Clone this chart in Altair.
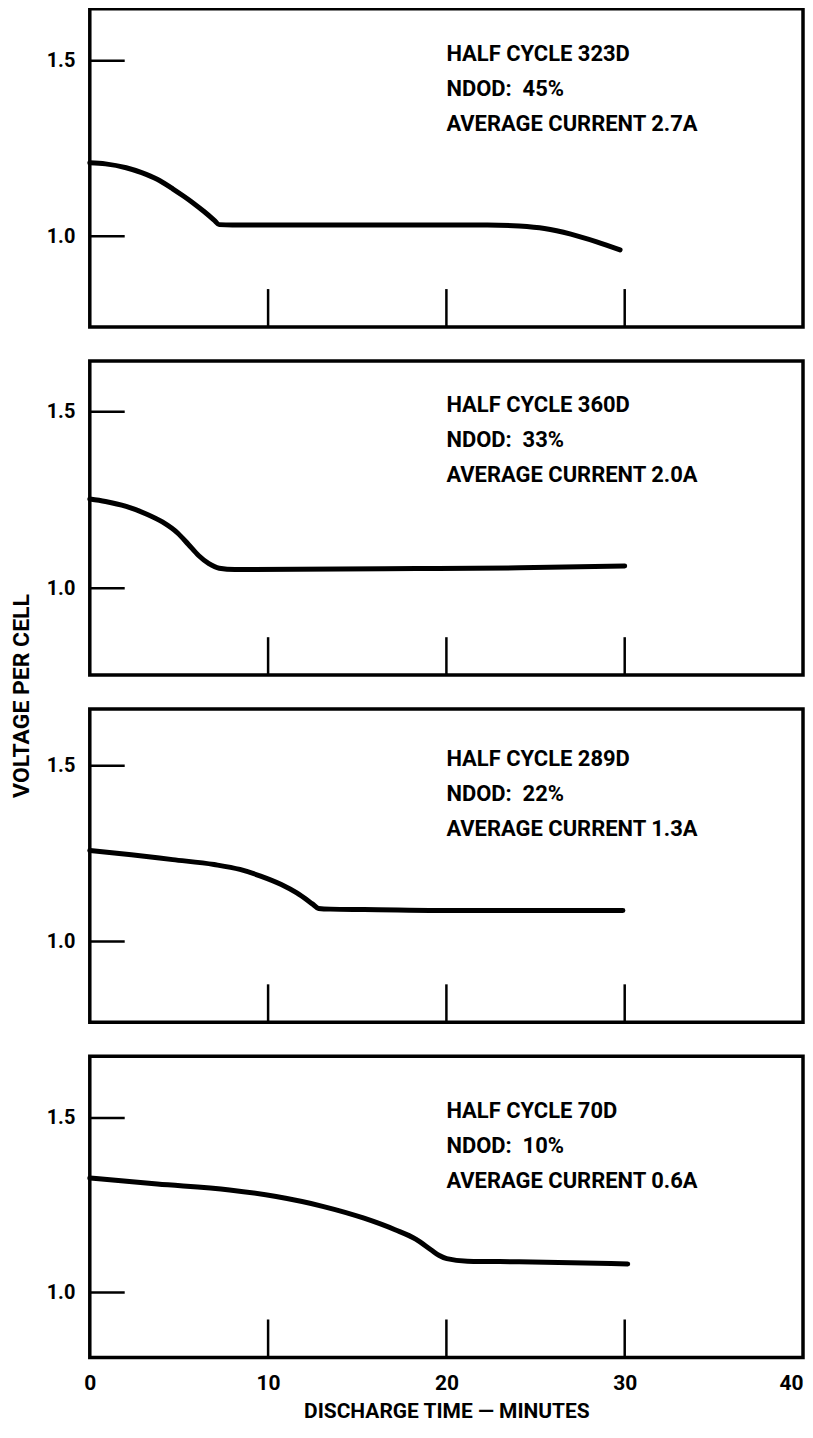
import altair as alt
import pandas as pd

# ---------------- data ----------------
# discharge time (minutes) and voltage per cell for each half cycle
t_323 = [0, 0.88, 2.04, 2.91, 3.78, 4.65, 5.23, 5.81, 6.39, 6.97, 7.26, 8.0,
         15, 22.3, 24.08, 25.5, 26.98, 28.43, 29.74]
v_323 = [1.209, 1.206, 1.195, 1.181, 1.162, 1.135, 1.115, 1.094, 1.071, 1.046, 1.033, 1.032,
         1.032, 1.032, 1.029, 1.022, 1.006, 0.984, 0.961]

t_360 = [0, 0.88, 2.04, 3.2, 4.07, 4.94, 5.52, 6.10, 6.68, 7.26, 8.13, 18.3, 24.1, 30.0]
v_360 = [1.253, 1.246, 1.232, 1.210, 1.188, 1.156, 1.125, 1.093, 1.070, 1.057, 1.053, 1.056,
         1.058, 1.063]

t_289 = [0, 2.33, 4.65, 6.97, 8.42, 9.58, 10.74, 11.61, 12.48, 12.83, 13.5, 15.38, 21.2, 29.9]
v_289 = [1.259, 1.247, 1.233, 1.219, 1.205, 1.186, 1.162, 1.138, 1.107, 1.094, 1.092, 1.091,
         1.088, 1.088]

t_70 = [0, 3.78, 7.84, 10.45, 13.06, 15.38, 17.12, 18.28, 19.15, 19.6, 20.02, 21.18, 24.08, 30.17]
v_70 = [1.328, 1.311, 1.294, 1.275, 1.247, 1.213, 1.180, 1.153, 1.122, 1.106, 1.097, 1.090,
        1.088, 1.082]

cycle_labels = ["HALF CYCLE 323D", "HALF CYCLE 360D", "HALF CYCLE 289D", "HALF CYCLE 70D"]
ndod_labels = ["NDOD:\u00a0 45%", "NDOD:\u00a0 33%", "NDOD:\u00a0 22%", "NDOD:\u00a0 10%"]
current_labels = ["AVERAGE CURRENT 2.7A", "AVERAGE CURRENT 2.0A",
                  "AVERAGE CURRENT 1.3A", "AVERAGE CURRENT 0.6A"]

y_tick_values = [1.0, 1.5]
x_label_values = [0, 10, 20, 30, 40]
x_inner_ticks = [10, 20, 30]

x_title = "DISCHARGE TIME \u2014 MINUTES"
y_title = "VOLTAGE PER CELL"

# ---------------- layout ----------------
FONT = "Roboto"
W = 715
HEIGHTS = [319, 315, 314, 302]
DOMAINS = [[0.7415, 1.6477], [0.7542, 1.6441], [0.7699, 1.6619], [0.8143, 1.6771]]
SPACING = 34

series = [(t_323, v_323), (t_360, v_360), (t_289, v_289), (t_70, v_70)]


def panel(i):
    t, v = series[i]
    h = HEIGHTS[i]
    xs = alt.Scale(domain=[0, 40], nice=False, zero=False)
    ys = alt.Scale(domain=DOMAINS[i], nice=False, zero=False)
    if i == 3:
        xaxis = alt.Axis(values=x_label_values, format="d", ticks=False, tickSize=0,
                         domain=False, grid=False, labelFont=FONT, labelFontSize=21,
                         labelFontWeight="bold", labelColor="black", labelPadding=15,
                         labelFlush=False,
                         labelAlign={"expr": "datum.value == 40 ? 'right' : 'center'"},
                         title=x_title, titleFont=FONT, titleFontSize=21,
                         titleFontWeight="bold", titleColor="black", titlePadding=7)
    else:
        xaxis = None
    yaxis = alt.Axis(values=y_tick_values, format=".1f", ticks=False, tickSize=0,
                     domain=False, grid=False, labelFont=FONT, labelFontSize=20,
                     labelFontWeight="bold", labelColor="black", labelPadding=15,
                     title=None)

    line = alt.Chart(pd.DataFrame({"t": t, "v": v})).mark_line(
        color="black", strokeWidth=5, interpolate="monotone", strokeCap="round",
        strokeJoin="round"
    ).encode(
        x=alt.X("t:Q", scale=xs, axis=xaxis),
        y=alt.Y("v:Q", scale=ys, axis=yaxis),
    )

    ytick = alt.Chart(pd.DataFrame({"v": y_tick_values})).mark_rule(
        color="black", strokeWidth=2.5
    ).encode(
        y=alt.Y("v:Q", scale=ys, axis=yaxis),
        x=alt.value(0), x2=alt.value(35),
    )

    xtick = alt.Chart(pd.DataFrame({"t": x_inner_ticks})).mark_rule(
        color="black", strokeWidth=2.5
    ).encode(
        x=alt.X("t:Q", scale=xs, axis=xaxis),
        y=alt.value(h - 38), y2=alt.value(h),
    )

    text_df = pd.DataFrame({
        "t": [20, 20, 20],
        "v": [1.5, 1.4, 1.3],
        "label": [cycle_labels[i], ndod_labels[i], current_labels[i]],
    })
    text = alt.Chart(text_df).mark_text(
        align="left", baseline="alphabetic", font=FONT, fontSize=22,
        fontWeight="bold", color="black"
    ).encode(
        x=alt.X("t:Q", scale=xs, axis=xaxis),
        y=alt.Y("v:Q", scale=ys, axis=yaxis),
        text="label:N",
    )

    layers = [line, ytick, xtick, text]
    if i == 2:
        ytitle = alt.Chart(pd.DataFrame({"label": [y_title]})).mark_text(
            angle=270, align="center", baseline="middle", font=FONT, fontSize=23,
            fontWeight="bold", color="black"
        ).encode(
            text="label:N", x=alt.value(-68), y=alt.value(-13)
        )
        layers.append(ytitle)
    return alt.layer(*layers).properties(width=W, height=h)


chart = alt.vconcat(
    *[panel(i) for i in range(4)], spacing=SPACING, bounds="flush"
).properties(
    padding={"left": 1, "top": -3, "right": 0, "bottom": 0},
    background="white",
).configure_view(
    stroke="black", strokeWidth=3.5
)

chart.save("out.html", embed_options={"renderer": "svg", "actions": False})
